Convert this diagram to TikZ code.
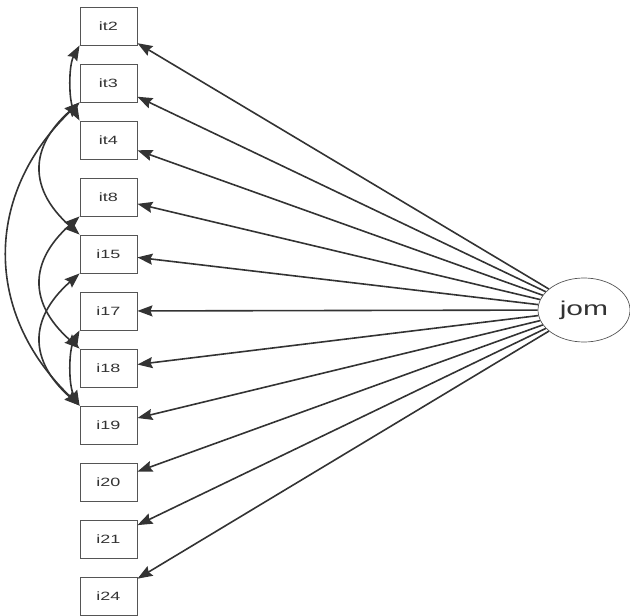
\documentclass[tikz,border=0pt]{standalone}
\usepackage{fontspec}
\setmainfont{Liberation Sans}
\newfontfamily\varfont[FakeStretch=1.5]{Liberation Sans}
\usetikzlibrary{shapes.geometric,arrows.meta}

\definecolor{boxgray}{HTML}{555555}
\definecolor{linegray}{HTML}{333333}
\definecolor{textgray}{HTML}{333333}

\tikzset{
  manifest/.style={draw=boxgray, line width=0.9pt, rectangle, minimum width=57pt,
    minimum height=38pt, inner sep=0pt, text=textgray,
    font={\varfont\fontsize{12}{13}\selectfont}},
  latent/.style={draw=boxgray, line width=0.7pt, ellipse, minimum width=92pt,
    minimum height=64pt, inner sep=0pt, text=textgray,
    font={\varfont\fontsize{20}{22}\selectfont}},
  load/.style={-{Stealth[length=15pt,width=11pt,inset=2pt]}, line width=1.6pt, draw=linegray},
  cov/.style={{Stealth[length=15pt,width=11pt,inset=2pt]}-{Stealth[length=15pt,width=11pt,inset=2pt]},
    line width=1.6pt, draw=linegray},
}

\begin{document}
\begin{tikzpicture}[x=1pt,y=-1pt]
\useasboundingbox (0,0) rectangle (630,616);
% indicators
\node [manifest] (it2) at (108.5,26) {it2};
\node [manifest] (it3) at (108.5,83) {it3};
\node [manifest] (it4) at (108.5,140) {it4};
\node [manifest] (it8) at (108.5,197) {it8};
\node [manifest] (i15) at (108.5,254) {i15};
\node [manifest] (i17) at (108.5,311) {i17};
\node [manifest] (i18) at (108.5,368) {i18};
\node [manifest] (i19) at (108.5,425) {i19};
\node [manifest] (i20) at (108.5,482) {i20};
\node [manifest] (i21) at (108.5,539) {i21};
\node [manifest] (i24) at (108.5,596) {i24};
% factor
\node [latent] (jom) at (584,310) {jom};
% loadings
\draw[load] (jom) -- (it2);
\draw[load] (jom) -- (it3);
\draw[load] (jom) -- (it4);
\draw[load] (jom) -- (it8);
\draw[load] (jom) -- (i15);
\draw[load] (jom) -- (i17);
\draw[load] (jom) -- (i18);
\draw[load] (jom) -- (i19);
\draw[load] (jom) -- (i20);
\draw[load] (jom) -- (i21);
\draw[load] (jom) -- (i24);
% residual covariances
\draw[cov] (it2.south west) .. controls +(-11,20) and +(-11,-20) .. (it4.north west);
\draw[cov] (it3.south west) .. controls +(-51,45) and +(-51,-45) .. (i15.north west);
\draw[cov] (it3.south west) .. controls +(-96,92) and +(-96,-92) .. (i19.north west);
\draw[cov] (it8.south west) .. controls +(-51,45) and +(-51,-45) .. (i18.north west);
\draw[cov] (i15.south west) .. controls +(-51,45) and +(-51,-45) .. (i19.north west);
\draw[cov] (i17.south west) .. controls +(-11,20) and +(-11,-20) .. (i19.north west);
\end{tikzpicture}
\end{document}
